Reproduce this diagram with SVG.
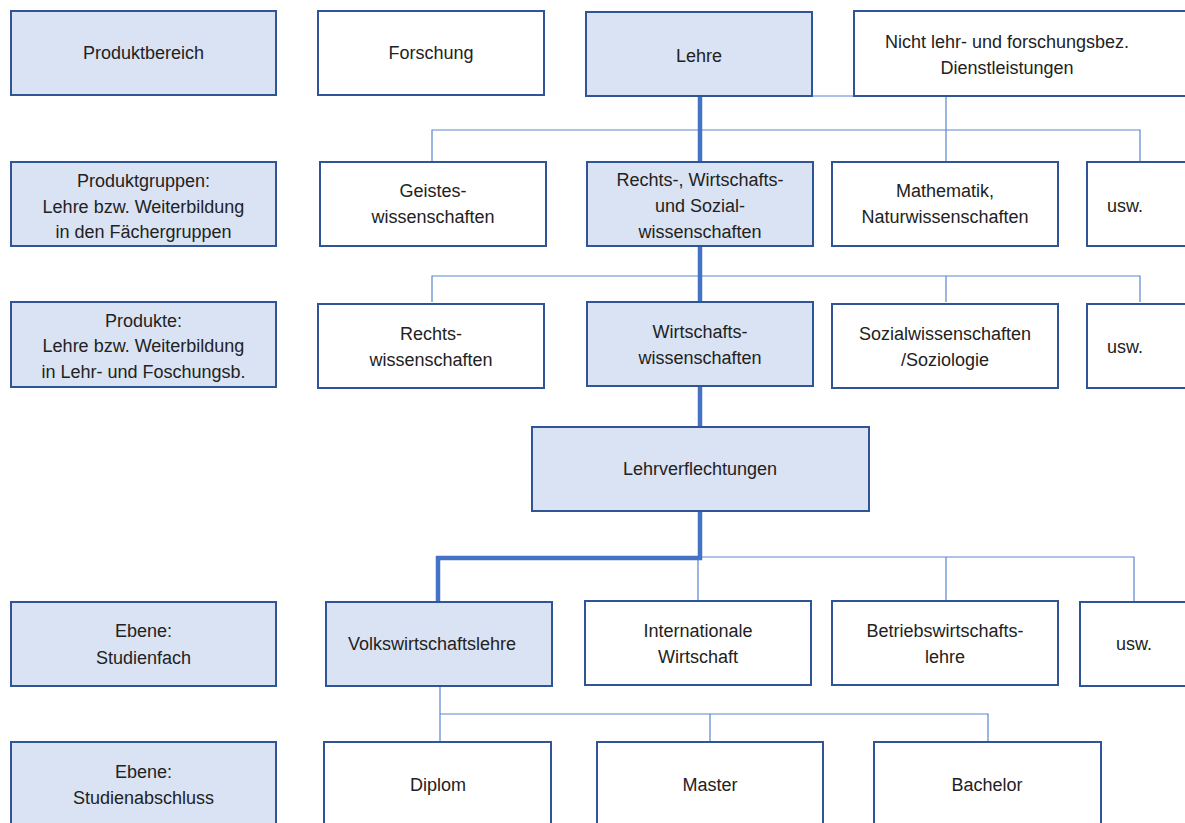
<svg xmlns="http://www.w3.org/2000/svg" width="1185" height="823" viewBox="0 0 1185 823">
<style>
.b{fill:#fff;stroke:#2F5597;stroke-width:2}
.f{fill:#DAE3F3;stroke:#2F5597;stroke-width:2}
text{font-family:"Liberation Sans",Arial,sans-serif;font-size:18px;fill:#222;text-anchor:middle;dominant-baseline:central}
.t{fill:none;stroke:#5B86D0;stroke-width:1.2}
.k{fill:none;stroke:#4472C4;stroke-width:4.5}
</style>
<rect width="1185" height="823" fill="#fff"/>
<g id="connectors">
<path class="t" d="M812 96H854M946 96V162M432 162V130H1140V162"/>
<path class="t" d="M432 302V276H1140V302M946 276V302"/>
<path class="t" d="M700 557H1134V601M698 557V601M946 557V601"/>
<path class="t" d="M440 686V714H988V742M440 714V742M710 714V742"/>
<path class="k" d="M700 96V162M700 246V302M700 387V427M700 511V558H438V601"/>
</g>
<g id="n-produktbereich"><rect class="f" x="11" y="11" width="265" height="84"/><text x="143.5" y="53">Produktbereich</text></g>
<g id="n-forschung"><rect class="b" x="318" y="11" width="226" height="84"/><text x="431" y="53">Forschung</text></g>
<g id="n-lehre"><rect class="f" x="586" y="12" width="226" height="84"/><text x="699" y="56">Lehre</text></g>
<g id="n-nicht"><rect class="b" x="854" y="11" width="340" height="85"/><text x="1007" y="42">Nicht lehr- und forschungsbez.</text><text x="1007" y="68">Dienstleistungen</text></g>
<g id="n-produktgruppen"><rect class="f" x="11" y="162" width="265" height="84"/><text x="143.5" y="181">Produktgruppen:</text><text x="143.5" y="207">Lehre bzw. Weiterbildung</text><text x="143.5" y="232">in den Fächergruppen</text></g>
<g id="n-geistes"><rect class="b" x="320" y="162" width="226" height="84"/><text x="433" y="191">Geistes-</text><text x="433" y="217">wissenschaften</text></g>
<g id="n-rws"><rect class="f" x="587" y="162" width="226" height="84"/><text x="700" y="180">Rechts-, Wirtschafts-</text><text x="700" y="206">und Sozial-</text><text x="700" y="232">wissenschaften</text></g>
<g id="n-mathe"><rect class="b" x="832" y="162" width="226" height="84"/><text x="945" y="191">Mathematik,</text><text x="945" y="217">Naturwissenschaften</text></g>
<g id="n-usw1"><rect class="b" x="1087" y="162" width="110" height="84"/><text x="1125" y="206">usw.</text></g>
<g id="n-produkte"><rect class="f" x="11" y="302" width="265" height="85"/><text x="143.5" y="321">Produkte:</text><text x="143.5" y="346">Lehre bzw. Weiterbildung</text><text x="143.5" y="372">in Lehr- und Foschungsb.</text></g>
<g id="n-rechts"><rect class="b" x="318" y="304" width="226" height="84"/><text x="431" y="334">Rechts-</text><text x="431" y="360">wissenschaften</text></g>
<g id="n-wiwi"><rect class="f" x="587" y="302" width="226" height="84"/><text x="700" y="332">Wirtschafts-</text><text x="700" y="358">wissenschaften</text></g>
<g id="n-sozial"><rect class="b" x="832" y="304" width="226" height="84"/><text x="945" y="334">Sozialwissenschaften</text><text x="945" y="360">/Soziologie</text></g>
<g id="n-usw2"><rect class="b" x="1087" y="304" width="110" height="84"/><text x="1125" y="347">usw.</text></g>
<g id="n-lehrverflechtungen"><rect class="f" x="532" y="427" width="337" height="84"/><text x="700" y="469">Lehrverflechtungen</text></g>
<g id="n-studienfach"><rect class="f" x="11" y="602" width="265" height="84"/><text x="143.5" y="631">Ebene:</text><text x="143.5" y="658">Studienfach</text></g>
<g id="n-vwl"><rect class="f" x="326" y="602" width="226" height="84"/><text x="432" y="644">Volkswirtschaftslehre</text></g>
<g id="n-intwi"><rect class="b" x="585" y="601" width="226" height="84"/><text x="698" y="631">Internationale</text><text x="698" y="657">Wirtschaft</text></g>
<g id="n-bwl"><rect class="b" x="832" y="601" width="226" height="84"/><text x="945" y="631">Betriebswirtschafts-</text><text x="945" y="657">lehre</text></g>
<g id="n-usw3"><rect class="b" x="1080" y="602" width="120" height="84"/><text x="1134" y="644">usw.</text></g>
<g id="n-studienabschluss"><rect class="f" x="11" y="742" width="265" height="100"/><text x="143.5" y="772">Ebene:</text><text x="143.5" y="798">Studienabschluss</text></g>
<g id="n-diplom"><rect class="b" x="324" y="742" width="227" height="100"/><text x="438" y="785">Diplom</text></g>
<g id="n-master"><rect class="b" x="597" y="742" width="226" height="100"/><text x="710" y="785">Master</text></g>
<g id="n-bachelor"><rect class="b" x="874" y="742" width="227" height="100"/><text x="987" y="785">Bachelor</text></g>
</svg>
